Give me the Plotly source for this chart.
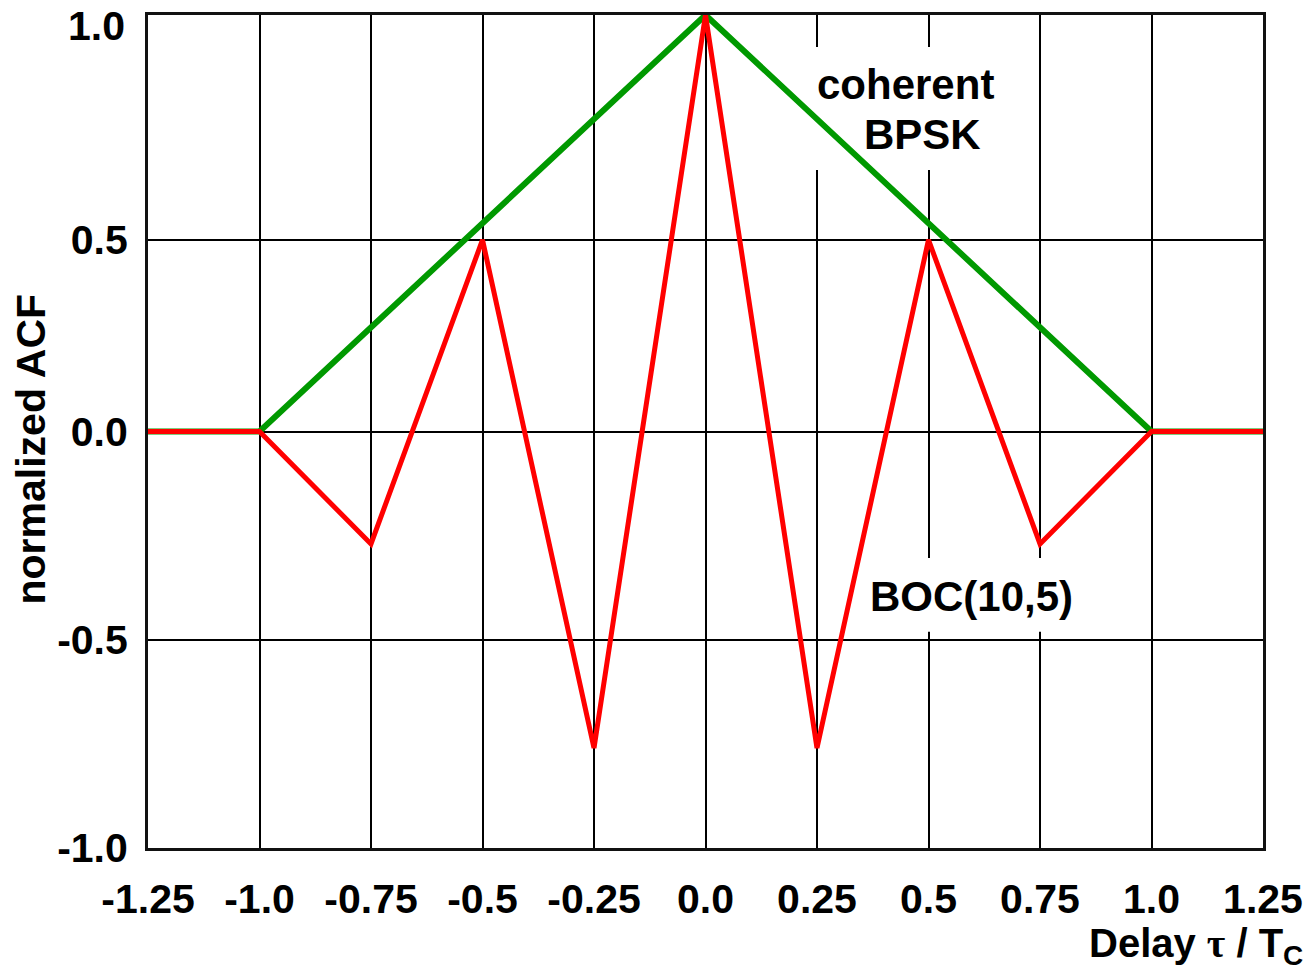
import plotly.graph_objects as go

# Data
delay = [-1.25, -1.0, -0.75, -0.5, -0.25, 0.0, 0.25, 0.5, 0.75, 1.0, 1.25]
boc_acf = [0.0, 0.0, -0.27, 0.46, -0.76, 1.0, -0.76, 0.46, -0.27, 0.0, 0.0]
bpsk_delay = [-1.25, -1.0, 0.0, 1.0, 1.25]
bpsk_acf = [0.0, 0.0, 1.0, 0.0, 0.0]

x_tickvals = [-1.25, -1.0, -0.75, -0.5, -0.25, 0.0, 0.25, 0.5, 0.75, 1.0, 1.25]
x_ticktext = ["-1.25", "-1.0", "-0.75", "-0.5", "-0.25", "0.0", "0.25", "0.5", "0.75", "1.0", "1.25"]
y_tickvals = [-1.0, -0.5, 0.0, 0.46, 1.0]
y_ticktext = ["-1.0", "-0.5", "0.0", "0.5", ""]
top_label = "1.0"

FONT = "Liberation Sans, Arial, sans-serif"

fig = go.Figure()
fig.add_trace(go.Scatter(x=bpsk_delay, y=bpsk_acf, mode="lines",
                         line=dict(color="#009900", width=6), name="coherent BPSK",
                         showlegend=False))
fig.add_trace(go.Scatter(x=delay, y=boc_acf, mode="lines",
                         line=dict(color="#ff0000", width=5), name="BOC(10,5)",
                         showlegend=False))

# white patches that interrupt the grid behind the labels
fig.add_shape(type="rect", xref="x", yref="y", x0=0.217, x1=0.663, y0=0.628, y1=0.923,
              fillcolor="white", line=dict(width=0), layer="between")
fig.add_shape(type="rect", xref="x", yref="y", x0=0.34, x1=0.853, y0=-0.481, y1=-0.304,
              fillcolor="white", line=dict(width=0), layer="between")

ann_font = dict(family=FONT, size=42, color="black")
fig.add_annotation(x=0.449, y=0.834, xref="x", yref="y", text="<b>coherent</b>",
                   showarrow=False, font=ann_font, xanchor="center", yanchor="middle")
fig.add_annotation(x=0.487, y=0.714, xref="x", yref="y", text="<b>BPSK</b>",
                   showarrow=False, font=ann_font, xanchor="center", yanchor="middle")
fig.add_annotation(x=0.596, y=-0.395, xref="x", yref="y", text="<b>BOC(10,5)</b>",
                   showarrow=False, font=ann_font, xanchor="center", yanchor="middle")

# top y tick label (shifted down so it stays inside the page, as in the reference)
fig.add_annotation(x=-0.0185, y=0.987, xref="paper", yref="paper",
                   text="<b>%s</b>" % top_label, showarrow=False,
                   font=dict(family=FONT, size=41, color="black"),
                   xanchor="right", yanchor="middle")

# axis titles
fig.add_annotation(x=1.0375, y=-0.118, xref="paper", yref="paper",
                   text="<b>Delay <span style='font-family:Liberation Serif'>τ</span> / T<sub>C</sub></b>",
                   showarrow=False, font=dict(family=FONT, size=40, color="black"),
                   xanchor="right", yanchor="middle")
fig.add_annotation(x=-0.1045, y=0.479, xref="paper", yref="paper",
                   text="<b>normalized ACF</b>", textangle=-90,
                   showarrow=False, font=dict(family=FONT, size=41, color="black"),
                   xanchor="center", yanchor="middle")

axis_common = dict(showgrid=True, gridcolor="black", gridwidth=2,
                   showline=True, linecolor="#111111", linewidth=3, mirror=True,
                   zeroline=False, ticks="",
                   tickfont=dict(family=FONT, size=41, color="black"))

fig.update_xaxes(range=[-1.25, 1.25], tickvals=x_tickvals,
                 ticktext=["<b>%s</b>" % t for t in x_ticktext],
                 ticklabelstandoff=13, **axis_common)
fig.update_yaxes(range=[-1.0, 1.0], tickvals=y_tickvals,
                 ticktext=["<b>%s</b>" % t if t else "" for t in y_ticktext],
                 ticklabelstandoff=9, **axis_common)

fig.update_layout(width=1315, height=979,
                  margin=dict(l=148, r=47, t=15, b=131),
                  paper_bgcolor="white", plot_bgcolor="white",
                  showlegend=False)

fig.write_html("out.html")
